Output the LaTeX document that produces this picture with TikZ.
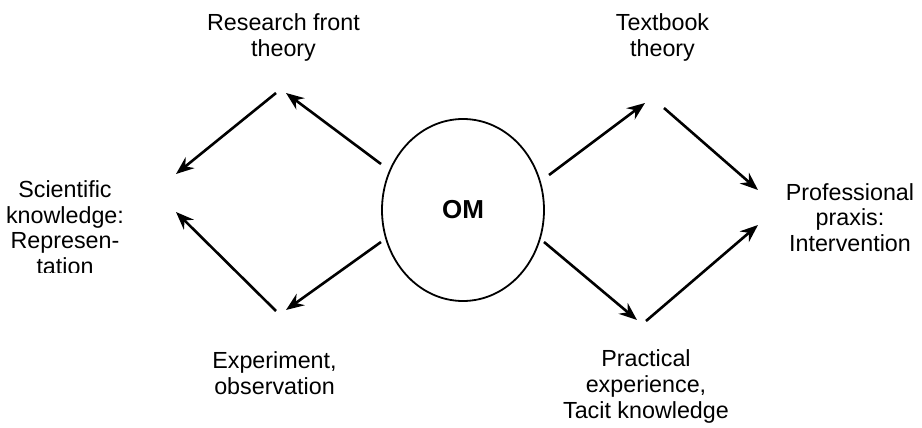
\documentclass[tikz,border=0pt]{standalone}
\usepackage{fontspec}
\setmainfont{Liberation Sans}
\usetikzlibrary{arrows.meta,shapes.geometric}
\begin{document}
\begin{tikzpicture}[x=1pt,y=-1pt,
  lbl/.style={align=center,inner sep=0pt,font=\fontsize{23.3}{25.8}\selectfont},
  arr/.style={line width=2.6pt,-{Stealth[length=18pt,width=14pt,inset=6pt]}},
  omshape/.style={draw,line width=1.8pt,ellipse,minimum width=162pt,minimum height=182pt,inner sep=0pt,font=\fontsize{26}{30}\selectfont\bfseries}]
\useasboundingbox (0,0) rectangle (922,428);
\node[omshape] (om) at (463,210) {OM};
\node[lbl] (rft) at (283.5,37.5) {Research front\\theory};
\node[lbl] (tbt) at (662.5,37.5) {Textbook\\theory};
\begin{scope}
\clip (0,0) rectangle (200,272);
\node[lbl] (sci) at (65,227.6) {Scientific\\knowledge:\\Represen-\\tation};
\end{scope}
\node[lbl] (exp) at (274.5,373.3) {Experiment,\\observation};
\node[lbl] (pra) at (646,386.6) {Practical\\experience,\\Tacit knowledge};
\node[lbl] (pro) at (850,217.6) {Professional\\praxis:\\Intervention};
% arrow end points
\coordinate (a1s) at (381,164); \coordinate (a1e) at (286,93);
\coordinate (a2s) at (276,93);  \coordinate (a2e) at (176,174);
\coordinate (a3s) at (381,242); \coordinate (a3e) at (286,310);
\coordinate (a4s) at (276,311); \coordinate (a4e) at (176,212);
\coordinate (a5s) at (549,175); \coordinate (a5e) at (645,103);
\coordinate (a6s) at (664,108); \coordinate (a6e) at (758,190);
\coordinate (a7s) at (544,242); \coordinate (a7e) at (637,320);
\coordinate (a8s) at (646,321); \coordinate (a8e) at (758,225);
\foreach \i in {1,...,8} {\draw[arr] (a\i s) -- (a\i e);}
\end{tikzpicture}
\end{document}
